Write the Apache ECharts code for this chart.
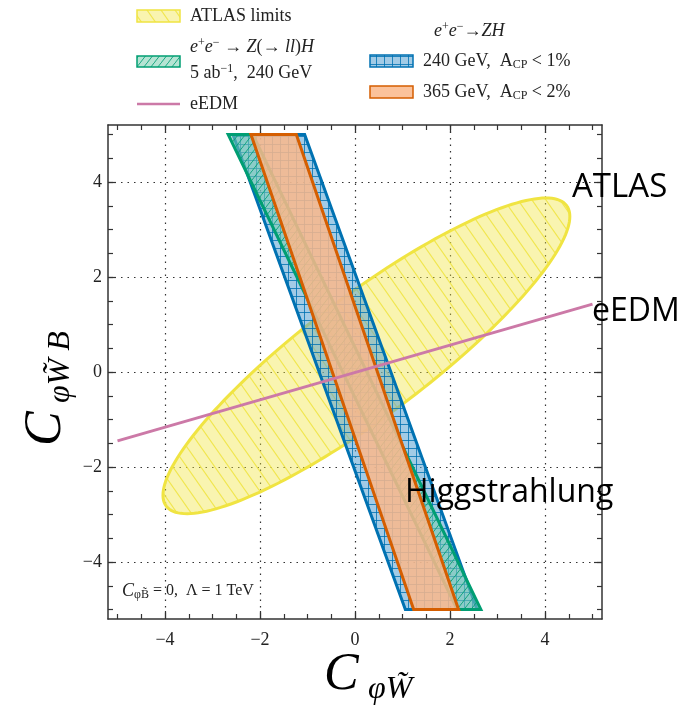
<!DOCTYPE html>
<html><head><meta charset="utf-8">
<script src="https://cdn.jsdelivr.net/npm/echarts@6/dist/echarts.min.js"></script>
<style>html,body{margin:0;padding:0;background:#fff}#c{width:694px;height:712px}</style>
</head><body><div id="c"></div>
<script>
// ---------- data ----------
const xMajorTicks = [-4, -2, 0, 2, 4];
const yMajorTicks = [-4, -2, 0, 2, 4];
const minorTicks = [-5, -4.5, -4, -3.5, -3, -2.5, -2, -1.5, -1, -0.5, 0, 0.5, 1, 1.5, 2, 2.5, 3, 3.5, 4, 4.5, 5];
// e+e- -> ZH, 240 GeV, A_CP < 1%  (parallelogram corners)
const blueX = [-2.57, -1.06, 2.57, 1.06];
const blueY = [5, 5, -5, -5];
// e+e- -> Z(->ll)H, 5 ab^-1, 240 GeV
const greenX = [-2.67, -2.15, 2.65, 2.15];
const greenY = [5, 5, -5, -5];
// e+e- -> ZH, 365 GeV, A_CP < 2%
const orangeX = [-2.19, -1.235, 2.18, 1.235];
const orangeY = [5, 5, -5, -5];
// eEDM line
const eedmX = [-5, 5];
const eedmY = [-1.45, 1.43];
// ATLAS limits ellipse: centre, semi-axes, orientation
const atlasCenter = [0.24, 0.34];
const atlasSemiAxes = [5.27, 1.27];
const atlasAngleDeg = 36.9;

// ---------- styling ----------
const SERIF = '"Liberation Serif", "DejaVu Serif", serif';
const SANS = '"Open Sans", "Noto Sans", sans-serif';
const YEL = '#f0e442', GRN = '#009e73', BLU = '#0072b2', ORA = '#d55e00', PINK = '#cc79a7';

function hatch(w, h, bg, lc, lw, dir) {
  const c = document.createElement('canvas'); c.width = w; c.height = h;
  const g = c.getContext('2d');
  g.fillStyle = bg; g.fillRect(0, 0, w, h);
  g.strokeStyle = lc; g.lineWidth = lw;
  for (let k = -1; k <= 1; k++) {
    g.beginPath();
    if (dir === '\\') { g.moveTo(k * w - w, -h); g.lineTo(k * w + 2 * w, 2 * h); }
    else { g.moveTo(k * w + w, -h); g.lineTo(k * w - 2 * w, 2 * h); }
    g.stroke();
  }
  return { image: c, repeat: 'repeat' };
}
function gridPat(s, bg, lc, lw) {
  const c = document.createElement('canvas'); c.width = s; c.height = s;
  const g = c.getContext('2d');
  g.fillStyle = bg; g.fillRect(0, 0, s, s);
  g.strokeStyle = lc; g.lineWidth = lw;
  g.beginPath(); g.moveTo(0.5, 0); g.lineTo(0.5, s); g.moveTo(0, 0.5); g.lineTo(s, 0.5); g.stroke();
  return { image: c, repeat: 'repeat' };
}
const yellowPat = hatch(14, 20, 'rgba(240,228,66,0.42)', 'rgba(240,228,66,0.9)', 1.1, '\\');
const greenPat = hatch(7, 9, 'rgba(120,205,175,0.55)', 'rgba(0,158,115,0.85)', 1, '/');
const bluePat = gridPat(8, 'rgba(86,160,210,0.55)', 'rgba(0,114,178,0.8)', 1);
const orangeFill = 'rgba(250,184,138,0.86)';

function polySeries(xs, ys, fill, stroke, z) {
  return {
    type: 'custom', xAxisIndex: 0, yAxisIndex: 0, z: z, silent: true,
    data: xs.map((x, i) => [x, ys[i]]),
    encode: { x: 0, y: 1 },
    renderItem: function (params, api) {
      if (params.dataIndex !== 0) return;
      const pts = xs.map((x, i) => api.coord([x, ys[i]]));
      return { type: 'polygon', shape: { points: pts },
        style: { fill: fill, stroke: stroke, lineWidth: 3, lineJoin: 'miter' } };
    }
  };
}
const ellipseSeries = {
  type: 'custom', xAxisIndex: 0, yAxisIndex: 0, z: 2, silent: true,
  data: [atlasCenter], encode: { x: 0, y: 1 },
  renderItem: function (params, api) {
    const th = atlasAngleDeg * Math.PI / 180, a = atlasSemiAxes[0], b = atlasSemiAxes[1];
    const pts = [];
    for (let i = 0; i < 180; i++) {
      const t = 2 * Math.PI * i / 180;
      const ex = atlasCenter[0] + a * Math.cos(t) * Math.cos(th) - b * Math.sin(t) * Math.sin(th);
      const ey = atlasCenter[1] + a * Math.cos(t) * Math.sin(th) + b * Math.sin(t) * Math.cos(th);
      pts.push(api.coord([ex, ey]));
    }
    return { type: 'polygon', shape: { points: pts }, style: { fill: yellowPat, stroke: YEL, lineWidth: 3 } };
  }
};

const fmt = v => v < 0 ? '\u2212' + (-v) : String(v);
const AX = '#333';
function xAx(pos, ticks, len, major) {
  return { type: 'value', min: -5.2, max: 5.2, position: pos,
    axisLine: { show: major, onZero: false, lineStyle: { color: AX, width: 1.5 } },
    axisTick: { show: true, inside: true, length: len, customValues: ticks, lineStyle: { color: AX, width: 1.2 } },
    axisLabel: { show: major && pos === 'bottom', customValues: xMajorTicks, formatter: fmt, margin: 12,
      fontFamily: SERIF, fontSize: 18, color: '#222' },
    splitLine: { show: major && pos === 'bottom', lineStyle: { type: [1.5, 5], color: '#333', width: 1.2 } } };
}
function yAx(pos, ticks, len, major) {
  return { type: 'value', min: -5.2, max: 5.2, position: pos,
    axisLine: { show: major, onZero: false, lineStyle: { color: AX, width: 1.5 } },
    axisTick: { show: true, inside: true, length: len, customValues: ticks, lineStyle: { color: AX, width: 1.2 } },
    axisLabel: { show: major && pos === 'left', customValues: yMajorTicks, formatter: fmt, margin: 6,
      fontFamily: SERIF, fontSize: 18, color: '#222' },
    splitLine: { show: major && pos === 'left', lineStyle: { type: [1.5, 5], color: '#333', width: 1.2 } } };
}

const sup = { fontSize: 12, fontFamily: SERIF, padding: [0, 0, 9, 0] };
const sub = { fontSize: 12, fontFamily: SERIF, padding: [8, 0, 0, 0] };
const it = { fontStyle: 'italic', fontFamily: SERIF, fontSize: 18 };
function txt(x, y, text, size, extra) {
  return Object.assign({ type: 'text', x: x, y: y, z: 100,
    style: { text: text, font: size + 'px ' + SERIF, fill: '#222', align: 'left', verticalAlign: 'middle',
      rich: { i: it, p: sup, b: sub } } }, extra || {});
}

const chart = echarts.init(document.getElementById('c'), null, { renderer: 'canvas' });
chart.setOption({
  backgroundColor: '#fff',
  animation: false,
  grid: { left: 108, top: 125, width: 494, height: 494 },
  xAxis: [xAx('bottom', xMajorTicks, 8, true), xAx('bottom', minorTicks, 5, false),
          xAx('top', xMajorTicks, 8, true), xAx('top', minorTicks, 5, false)],
  yAxis: [yAx('left', yMajorTicks, 8, true), yAx('left', minorTicks, 5, false),
          yAx('right', yMajorTicks, 8, true), yAx('right', minorTicks, 5, false)],
  series: [
    ellipseSeries,
    polySeries(blueX, blueY, bluePat, BLU, 3),
    polySeries(greenX, greenY, greenPat, GRN, 4),
    polySeries(orangeX, orangeY, orangeFill, ORA, 5),
    { type: 'line', xAxisIndex: 0, yAxisIndex: 0, z: 6, silent: true, showSymbol: false,
      data: eedmX.map((x, i) => [x, eedmY[i]]), lineStyle: { color: PINK, width: 3 } }
  ],
  graphic: [
    // legend, left column
    { type: 'rect', z: 100, shape: { x: 137, y: 10, width: 43, height: 12 }, style: { fill: yellowPat, stroke: YEL, lineWidth: 1.5 } },
    txt(190, 16, 'ATLAS limits', 18),
    { type: 'rect', z: 100, shape: { x: 137, y: 56, width: 43, height: 11 }, style: { fill: greenPat, stroke: GRN, lineWidth: 1.5 } },
    txt(190, 47, '{i|e}{p|+}{i|e}{p|\u2212} \u2192 {i|Z}(\u2192 {i|ll}){i|H}', 18),
    txt(190, 73, '5 ab{p|\u22121},  240 GeV', 18),
    { type: 'line', z: 100, shape: { x1: 137, y1: 104, x2: 180, y2: 104 }, style: { stroke: PINK, lineWidth: 2.5 } },
    txt(190, 104, 'eEDM', 18),
    // legend, right column
    txt(434, 31, '{i|e}{p|+}{i|e}{p|\u2212}\u2192{i|ZH}', 18),
    { type: 'rect', z: 100, shape: { x: 370, y: 55, width: 43, height: 12 }, style: { fill: bluePat, stroke: BLU, lineWidth: 1.5 } },
    txt(423, 61, '240 GeV,  A{b|CP} < 1%', 18),
    { type: 'rect', z: 100, shape: { x: 370, y: 86, width: 43, height: 12 }, style: { fill: orangeFill, stroke: ORA, lineWidth: 1.5 } },
    txt(423, 92, '365 GeV,  A{b|CP} < 2%', 18),
    // annotation inside the frame
    txt(122, 591, '{i|C}{b|\u03c6B\u0303} = 0,  \u039b = 1 TeV', 16),
    // big labels
    { type: 'text', z: 100, x: 572, y: 188, style: { text: 'ATLAS', font: '33px ' + SANS, fill: '#000', verticalAlign: 'middle' } },
    { type: 'text', z: 100, x: 592, y: 312, style: { text: 'eEDM', font: '32px ' + SANS, fill: '#000', verticalAlign: 'middle' } },
    { type: 'text', z: 100, x: 405, y: 493, style: { text: 'Higgstrahlung', font: '32px ' + SANS, fill: '#000', verticalAlign: 'middle' } },
    // x axis title
    { type: 'text', z: 100, x: 324, y: 675, style: { text: 'C', font: 'italic 52px ' + SERIF, fill: '#000', verticalAlign: 'middle' } },
    { type: 'text', z: 100, x: 368, y: 690, style: { text: '\u03c6W\u0303', font: 'italic 32px ' + SERIF, fill: '#000', verticalAlign: 'middle' } },
    // y axis title (rotated)
    { type: 'group', x: 46, y: 446, rotation: Math.PI / 2, children: [
      { type: 'text', z: 100, x: 0, y: 0, style: { text: 'C', font: 'italic 52px ' + SERIF, fill: '#000', verticalAlign: 'middle' } },
      { type: 'text', z: 100, x: 43, y: 15, style: { text: '\u03c6W\u0303 B', font: 'italic 32px ' + SERIF, fill: '#000', verticalAlign: 'middle' } }
    ] }
  ]
});
</script></body></html>
